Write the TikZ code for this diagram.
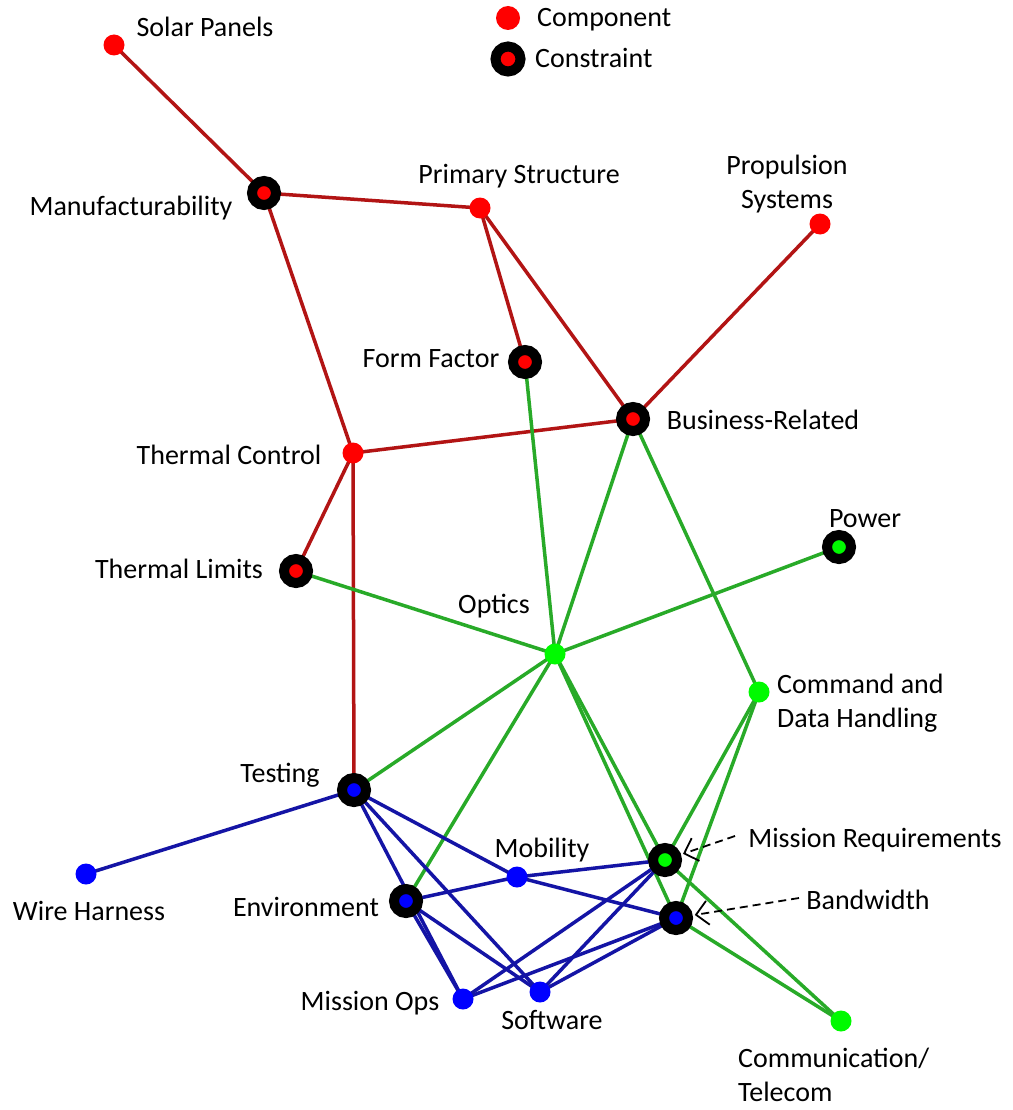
\documentclass[tikz,border=0pt]{standalone}
\usepackage{fontspec}
\setmainfont{Carlito}
\usetikzlibrary{backgrounds,arrows.meta}
\definecolor{nred}{RGB}{255,0,0}
\definecolor{ngreen}{RGB}{0,250,0}
\definecolor{nblue}{RGB}{0,0,255}
\definecolor{ered}{RGB}{178,20,20}
\definecolor{egreen}{RGB}{40,170,40}
\definecolor{eblue}{RGB}{20,20,165}
\tikzset{
  comp/.style={circle,fill=#1,minimum size=21pt,inner sep=0pt},
  cons/.style={circle,fill=#1,draw=black,line width=10pt,minimum size=24pt,inner sep=0pt},
  lbl/.style={font=\fontsize{28}{34}\selectfont,inner sep=0pt,text=black},
  redge/.style={ered,line width=3.5pt},
  gedge/.style={egreen,line width=3.5pt},
  bedge/.style={eblue,line width=3.5pt},
  leader/.style={line width=1.8pt,dash pattern=on 8pt off 5pt,-{Straight Barb[length=12pt,width=24pt]},shorten >=2pt}
}
\begin{document}
\begin{tikzpicture}[x=1pt,y=-1pt]
\useasboundingbox (0,0) rectangle (1012,1110);
% legend
\node[comp=nred,minimum size=24pt] (lc) at (508,18) {};
\node[cons=nred,minimum size=25pt] (lk) at (508,59) {};
\node[lbl,anchor=base west] (lct) at (537,27) {Component};
\node[lbl,anchor=base west] (lkt) at (535,68) {Constraint};
% nodes
\node[comp=nred] (sp) at (114,45) {};
\node[cons=nred] (man) at (264,193) {};
\node[comp=nred] (ps) at (480,208) {};
\node[comp=nred] (prop) at (820,224) {};
\node[cons=nred] (ff) at (525,362) {};
\node[cons=nred] (br) at (633,419) {};
\node[comp=nred] (tc) at (353,453) {};
\node[cons=nred] (tl) at (296,571) {};
\node[cons=ngreen] (pow) at (839,547) {};
\node[comp=ngreen] (opt) at (555,654) {};
\node[comp=ngreen] (cdh) at (759,692) {};
\node[cons=nblue] (test) at (354,790) {};
\node[cons=ngreen] (mr) at (665,860) {};
\node[comp=nblue] (mob) at (517,877) {};
\node[comp=nblue] (wh) at (86,874) {};
\node[cons=nblue] (env) at (406,901) {};
\node[cons=nblue] (bw) at (676,918) {};
\node[comp=nblue] (mo) at (463,999) {};
\node[comp=nblue] (sw) at (540,992) {};
\node[comp=ngreen] (comm) at (841,1021) {};
% labels
\node[lbl,anchor=base] (spl) at (205,37) {Solar Panels};
\node[lbl,anchor=base] (manl) at (131,215) {Manufacturability};
\node[lbl,anchor=base] (psl) at (519,184) {Primary Structure};
\node[lbl,anchor=base,align=center] (propl) at (787,208) {Propulsion\\Systems};
\node[lbl,anchor=base] (ffl) at (431,367) {Form Factor};
\node[lbl,anchor=base] (brl) at (763,429) {Business-Related};
\node[lbl,anchor=base] (tcl) at (229,464) {Thermal Control};
\node[lbl,anchor=base] (tll) at (179,578) {Thermal Limits};
\node[lbl,anchor=base] (powl) at (865,527) {Power};
\node[lbl,anchor=base] (optl) at (494,613) {Optics};
\node[lbl,anchor=base west,align=left] (cdhl) at (777,727) {Command and\\Data Handling};
\node[lbl,anchor=base] (testl) at (280,782) {Testing};
\node[lbl,anchor=base] (mrl) at (875,847) {Mission Requirements};
\node[lbl,anchor=base] (mobl) at (542,857) {Mobility};
\node[lbl,anchor=base] (whl) at (89,920) {Wire Harness};
\node[lbl,anchor=base] (envl) at (306,916) {Environment};
\node[lbl,anchor=base] (bwl) at (868,909) {Bandwidth};
\node[lbl,anchor=base] (mol) at (370,1010) {Mission Ops};
\node[lbl,anchor=base] (swl) at (552,1029) {Software};
\node[lbl,anchor=base west,align=left] (comml) at (738,1101) {Communication/\\Telecom};
% leaders
\coordinate (mrlead) at (735,836);
\coordinate (bwlead) at (799,898);
\draw[leader] (mrlead) -- (mr);
\draw[leader] (bwlead) -- (bw);
% edges
\begin{scope}[on background layer]
\fill[white] (0,0) rectangle (1012,1110);
\draw[redge] (sp.center) -- (man.center);
\draw[redge] (man.center) -- (ps.center);
\draw[redge] (man.center) -- (tc.center);
\draw[redge] (ps.center) -- (ff.center);
\draw[redge] (ps.center) -- (br.center);
\draw[redge] (prop.center) -- (br.center);
\draw[redge] (tc.center) -- (br.center);
\draw[redge] (tc.center) -- (tl.center);
\draw[redge] (tc.center) -- (test.center);
\draw[gedge] (ff.center) -- (opt.center);
\draw[gedge] (br.center) -- (opt.center);
\draw[gedge] (br.center) -- (cdh.center);
\draw[gedge] (tl.center) -- (opt.center);
\draw[gedge] (pow.center) -- (opt.center);
\draw[gedge] (opt.center) -- (test.center);
\draw[gedge] (opt.center) -- (env.center);
\draw[gedge] (opt.center) -- (mr.center);
\draw[gedge] (opt.center) -- (bw.center);
\draw[gedge] (cdh.center) -- (mr.center);
\draw[gedge] (cdh.center) -- (bw.center);
\draw[gedge] (mr.center) -- (comm.center);
\draw[gedge] (bw.center) -- (comm.center);
\draw[bedge] (test.center) -- (wh.center);
\draw[bedge] (test.center) -- (mo.center);
\draw[bedge] (test.center) -- (sw.center);
\draw[bedge] (test.center) -- (mob.center);
\draw[bedge] (env.center) -- (mob.center);
\draw[bedge] (env.center) -- (mo.center);
\draw[bedge] (env.center) -- (sw.center);
\draw[bedge] (mob.center) -- (mr.center);
\draw[bedge] (mob.center) -- (bw.center);
\draw[bedge] (mo.center) -- (mr.center);
\draw[bedge] (mo.center) -- (bw.center);
\draw[bedge] (sw.center) -- (mr.center);
\draw[bedge] (sw.center) -- (bw.center);
\end{scope}
\end{tikzpicture}
\end{document}
